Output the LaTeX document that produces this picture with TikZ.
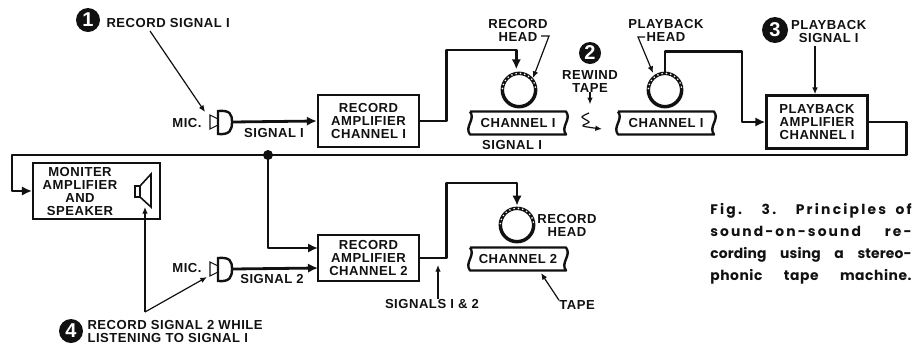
\documentclass[tikz,border=0pt]{standalone}
\usepackage{fontspec}
\setmainfont{Liberation Sans}[LetterSpace=4]
\newfontfamily\capfont{Poppins}
\usetikzlibrary{positioning, arrows.meta, calc}
\definecolor{ink}{HTML}{111111}
\newcommand{\capline}[2]{\makebox[151pt][s]{\addfontfeature{LetterSpace=#1}#2}}
\tikzset{
  lab/.style={inner sep=0pt, align=center, text=ink, font=\bfseries\fontsize{9.8}{9.75}\selectfont},
  ampbox/.style={lab, draw=ink, line width=1.8pt, minimum width=75.75pt, fill=white},
  sigline/.style={draw=ink, line width=2.1pt, line join=round},
  sigarrow/.style={sigline, -{Latex[length=7.5pt,width=7pt]}},
  leader/.style={draw=ink, line width=0.9pt, -{Latex[length=5pt,width=4.2pt]}},
  headring/.style={circle, draw=ink, line width=2.6pt, minimum size=25pt, inner sep=0pt, outer sep=0pt},
  tapebox/.style={lab, minimum width=72pt, minimum height=17.25pt, outer sep=0pt},
  tapeedge/.style={draw=ink, line width=1.8pt, line join=round},
  numdot/.style={circle, fill=ink, text=white, inner sep=0pt, font=\bfseries\fontsize{15}{15}\selectfont}
}

\begin{document}
\begin{tikzpicture}[x=0.75pt, y=-0.75pt]
\useasboundingbox (0,0) rectangle (912,344);

% Amplifier boxes
\node[ampbox, minimum height=39pt] (recamp1) at (368.5,121) {RECORD\\AMPLIFIER\\CHANNEL I};
\node[ampbox, minimum height=40pt] (pbamp) at (817,122) {PLAYBACK\\AMPLIFIER\\CHANNEL I};
\node[ampbox, minimum height=34.5pt] (recamp2) at (368.5,258) {RECORD\\AMPLIFIER\\CHANNEL 2};
\node[ampbox, minimum width=95pt, minimum height=42pt] (monamp) at (96.5,191) {};
\node[lab] (montext) at (80,191) {MONITER\\AMPLIFIER\\AND\\SPEAKER};

% Tape strips
\node[tapebox] (tape1) at (518,123) {CHANNEL I};
\node[tapebox] (tape2) at (666,123) {CHANNEL I};
\node[tapebox] (tape3) at (518,259) {CHANNEL 2};
\foreach \t in {tape1,tape2,tape3} {
  \draw[tapeedge] (\t.north west) -- (\t.north east)
    .. controls +(6,8) and +(-6,-8) .. (\t.south east) -- (\t.south west)
    .. controls +(-6,-8) and +(6,8) .. (\t.north west);
}

% Heads
\node[headring] (head1) at (519,90) {};
\node[headring] (head2) at (665,90) {};
\node[headring] (head3) at (517,225) {};
\foreach \h in {head1,head2,head3} {
  \foreach \a in {10,25,...,175} {
    \fill[white] (\h.\a) circle (0.9);
  }
}

% Microphones
\coordinate (mic1) at (232,122);
\coordinate (mic2) at (232,269);
\foreach \m in {mic1,mic2} {
  \draw[ink, line width=1.8pt] ($(\m)+(-14,-11)$) .. controls +(12,-1) and +(0,-8) .. (\m)
    .. controls +(0,8) and +(12,1) .. ($(\m)+(-14,12)$) -- cycle;
  \draw[ink, line width=0.8pt] ($(\m)+(-14,-3)$) -- ($(\m)+(-22,-7)$) -- ($(\m)+(-22,7)$) -- ($(\m)+(-14,3)$);
}
\node[lab] (miclab1) at (187,123) {MIC.};
\node[lab] (miclab2) at (187,268) {MIC.};

% Speaker
\coordinate (spk) at (135,186);
\draw[ink, line width=1.2pt] (spk) rectangle ++(5,11);
\draw[ink, line width=1.2pt] (140,186) -- (151,174) -- (151,207) -- (140,197);

% Signal path
\coordinate (busdot) at (268,155);
\coordinate (recin2a) at (318,248);
\coordinate (recin2b) at (318,268);
\draw[sigarrow] (mic1) -- (recamp1.west);
\draw[sigarrow] (recamp1.east) -- ++(26,0) -- ++(0,-71) -| ([shift={(-2pt,3pt)}]head1.north);
\draw[sigarrow] (head2.north) -- ++(0,-22) -- ++(77,0) |- (pbamp.west);
\draw[sigarrow] (pbamp.east) -- ++(38,0) -- ++(0,33) -- (12,155) |- (monamp.west);
\draw[sigarrow] (busdot) |- (recin2a);
\fill[ink] (busdot) circle (5);
\draw[sigarrow] (mic2) -- (recin2b);
\draw[sigarrow] (recamp2.east) -- ++(26,0) -- ++(0,-75) -| ([yshift=2pt]head3.north);

% Numbered steps
\node[numdot, minimum size=18pt] (num1) at (88,20) {1};
\node[numdot, minimum size=16.5pt] (num2) at (590,53) {2};
\node[numdot, minimum size=19.5pt] (num3) at (775,30) {3};
\node[numdot, minimum size=18pt] (num4) at (71,331) {4};

% Labels
\node[lab, right=4.5pt of num1, yshift=-2.2pt] (step1lab) {RECORD SIGNAL I};
\node[lab] (sig1lab) at (274,133) {SIGNAL I};
\node[lab] (sig1tape) at (512,145) {SIGNAL I};
\node[lab] (rechd1) at (518,30) {RECORD\\HEAD};
\node[lab] (pbhd) at (666,30) {PLAYBACK\\HEAD};
\node[lab] (rewind) at (590,81) {REWIND\\TAPE};
\node[lab, right=2pt of num3, yshift=-0.8pt] (step3lab) {PLAYBACK\\SIGNAL I};
\node[lab] (sig2lab) at (272,279) {SIGNAL 2};
\node[lab] (rechd3) at (567,225) {RECORD\\HEAD};
\node[lab] (sumlab) at (432,304) {SIGNALS I \& 2};
\node[lab] (tapelab) at (577,305) {TAPE};
\node[lab, right=3pt of num4, align=left] (step4lab) {RECORD SIGNAL 2 WHILE\\LISTENING TO SIGNAL I};

% Leaders
\coordinate (rec1tail) at (150,31);
\coordinate (rechook) at (541,36);
\coordinate (pbhook) at (645,37);
\coordinate (pbtail) at (815,46);
\coordinate (splitpt) at (145,312);
\coordinate (squigend) at (602,129);
\draw[leader] (rec1tail) -- (205,112);
\draw[leader] (rechook) -- ++(8,0) -- (533,78);
\draw[leader] (pbhook) -- ++(-7,0) -- (653,73);
\draw[leader] (pbtail) -- (pbamp.north -| pbtail);
\draw[leader] (rewind.south) -- ++(0,12);
\draw[leader] plot[smooth] coordinates {(589,113) (582,117) (589,122) (583,126) (squigend)};
\draw[leader] (splitpt) -- (145,207);
\draw[leader] (splitpt) -- (207,277);
\draw[leader] (sumlab.north -| 438,0) -- (438,265);
\draw[leader] (tapelab.north west) -- (541,273);

% Caption
\node[inner sep=0pt, anchor=north west, align=left, text=ink, font=\capfont\bfseries\fontsize{10.4}{16.5}\selectfont] (caption) at (710,203)
  {\capline{16}{Fig. 3. Principles of}\\ \capline{15}{sound-on-sound re-}\\ \capline{1}{cording using a stereo-}\\ \capline{4}{phonic tape machine.}};

\end{tikzpicture}
\end{document}
